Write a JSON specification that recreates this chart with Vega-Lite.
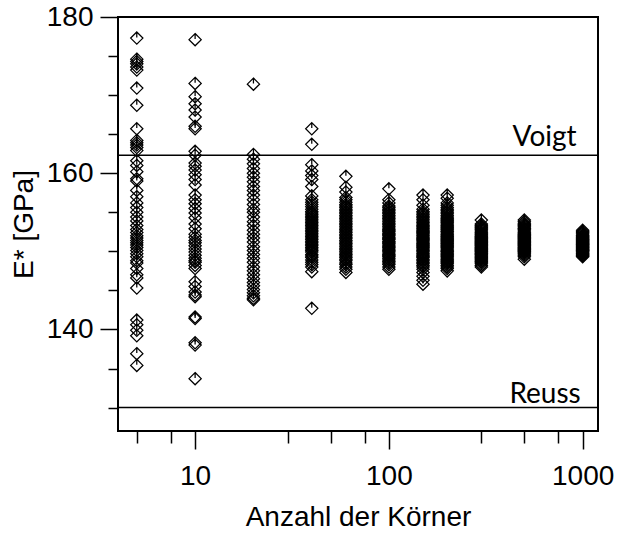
{
  "$schema": "https://vega.github.io/schema/vega-lite/v6.json",
  "width": 480,
  "height": 414,
  "autosize": {"type": "none"},
  "padding": {"left": 118, "top": 17, "right": 19, "bottom": 103},
  "background": "white",
  "config": {
    "view": {"stroke": "black", "strokeWidth": 2},
    "font": "Liberation Sans"
  },
  "datasets": {
    "samples": [
      {"n": 5, "E": 177.3}, {"n": 5, "E": 174.6}, {"n": 5, "E": 174.3}, {"n": 5, "E": 174.0}, {"n": 5, "E": 173.6},
      {"n": 5, "E": 173.2}, {"n": 5, "E": 170.9}, {"n": 5, "E": 168.7}, {"n": 5, "E": 165.7}, {"n": 5, "E": 164.2},
      {"n": 5, "E": 163.9}, {"n": 5, "E": 163.6}, {"n": 5, "E": 163.3}, {"n": 5, "E": 162.9}, {"n": 5, "E": 161.6},
      {"n": 5, "E": 161.0}, {"n": 5, "E": 160.2}, {"n": 5, "E": 159.3}, {"n": 5, "E": 159.0}, {"n": 5, "E": 157.8},
      {"n": 5, "E": 157.0}, {"n": 5, "E": 156.2}, {"n": 5, "E": 155.6}, {"n": 5, "E": 155.0}, {"n": 5, "E": 154.4},
      {"n": 5, "E": 153.9}, {"n": 5, "E": 153.3}, {"n": 5, "E": 152.8}, {"n": 5, "E": 152.4}, {"n": 5, "E": 152.0},
      {"n": 5, "E": 151.7}, {"n": 5, "E": 151.4}, {"n": 5, "E": 151.1}, {"n": 5, "E": 150.8}, {"n": 5, "E": 150.5},
      {"n": 5, "E": 150.1}, {"n": 5, "E": 149.7}, {"n": 5, "E": 149.3}, {"n": 5, "E": 148.8}, {"n": 5, "E": 148.5},
      {"n": 5, "E": 147.8}, {"n": 5, "E": 147.0}, {"n": 5, "E": 146.6}, {"n": 5, "E": 145.3}, {"n": 5, "E": 141.2},
      {"n": 5, "E": 140.6}, {"n": 5, "E": 139.9}, {"n": 5, "E": 139.2}, {"n": 5, "E": 136.9}, {"n": 5, "E": 135.4},

      {"n": 10, "E": 177.1}, {"n": 10, "E": 171.5}, {"n": 10, "E": 169.8}, {"n": 10, "E": 168.9}, {"n": 10, "E": 168.1},
      {"n": 10, "E": 167.2}, {"n": 10, "E": 166.0}, {"n": 10, "E": 165.7}, {"n": 10, "E": 162.8}, {"n": 10, "E": 162.3},
      {"n": 10, "E": 161.3}, {"n": 10, "E": 160.9}, {"n": 10, "E": 160.4}, {"n": 10, "E": 159.8}, {"n": 10, "E": 159.2},
      {"n": 10, "E": 158.5}, {"n": 10, "E": 157.2}, {"n": 10, "E": 156.6}, {"n": 10, "E": 156.1}, {"n": 10, "E": 155.5},
      {"n": 10, "E": 154.9}, {"n": 10, "E": 154.3}, {"n": 10, "E": 153.5}, {"n": 10, "E": 152.9}, {"n": 10, "E": 152.2},
      {"n": 10, "E": 151.8}, {"n": 10, "E": 151.4}, {"n": 10, "E": 151.1}, {"n": 10, "E": 150.7}, {"n": 10, "E": 150.3},
      {"n": 10, "E": 149.9}, {"n": 10, "E": 149.5}, {"n": 10, "E": 149.1}, {"n": 10, "E": 148.8}, {"n": 10, "E": 148.6},
      {"n": 10, "E": 148.2}, {"n": 10, "E": 147.8}, {"n": 10, "E": 146.1}, {"n": 10, "E": 145.5}, {"n": 10, "E": 144.8},
      {"n": 10, "E": 144.4}, {"n": 10, "E": 144.2}, {"n": 10, "E": 141.6}, {"n": 10, "E": 141.4}, {"n": 10, "E": 138.3},
      {"n": 10, "E": 138.0}, {"n": 10, "E": 133.7},

      {"n": 20, "E": 171.4}, {"n": 20, "E": 162.4}, {"n": 20, "E": 161.8}, {"n": 20, "E": 161.2}, {"n": 20, "E": 160.6},
      {"n": 20, "E": 160.0}, {"n": 20, "E": 159.5}, {"n": 20, "E": 158.9}, {"n": 20, "E": 158.3}, {"n": 20, "E": 157.8},
      {"n": 20, "E": 157.2}, {"n": 20, "E": 156.6}, {"n": 20, "E": 156.0}, {"n": 20, "E": 155.4}, {"n": 20, "E": 155.0},
      {"n": 20, "E": 154.4}, {"n": 20, "E": 153.8}, {"n": 20, "E": 153.3}, {"n": 20, "E": 152.7}, {"n": 20, "E": 152.2},
      {"n": 20, "E": 151.7}, {"n": 20, "E": 151.2}, {"n": 20, "E": 150.6}, {"n": 20, "E": 150.1}, {"n": 20, "E": 149.6},
      {"n": 20, "E": 149.1}, {"n": 20, "E": 148.6}, {"n": 20, "E": 148.0}, {"n": 20, "E": 147.5}, {"n": 20, "E": 147.0},
      {"n": 20, "E": 146.5}, {"n": 20, "E": 146.0}, {"n": 20, "E": 145.6}, {"n": 20, "E": 145.1}, {"n": 20, "E": 144.7},
      {"n": 20, "E": 144.3}, {"n": 20, "E": 144.0}, {"n": 20, "E": 143.8},

      {"n": 40, "E": 165.7}, {"n": 40, "E": 163.7}, {"n": 40, "E": 161.1}, {"n": 40, "E": 160.3}, {"n": 40, "E": 159.7},
      {"n": 40, "E": 159.2}, {"n": 40, "E": 158.3}, {"n": 40, "E": 157.1}, {"n": 40, "E": 156.6}, {"n": 40, "E": 156.3},
      {"n": 40, "E": 156.0}, {"n": 40, "E": 155.7}, {"n": 40, "E": 155.4}, {"n": 40, "E": 155.1}, {"n": 40, "E": 154.9},
      {"n": 40, "E": 154.7}, {"n": 40, "E": 154.5}, {"n": 40, "E": 154.3}, {"n": 40, "E": 154.1}, {"n": 40, "E": 153.9},
      {"n": 40, "E": 153.7}, {"n": 40, "E": 153.5}, {"n": 40, "E": 153.3}, {"n": 40, "E": 153.1}, {"n": 40, "E": 152.9},
      {"n": 40, "E": 152.7}, {"n": 40, "E": 152.5}, {"n": 40, "E": 152.3}, {"n": 40, "E": 152.1}, {"n": 40, "E": 151.9},
      {"n": 40, "E": 151.7}, {"n": 40, "E": 151.5}, {"n": 40, "E": 151.3}, {"n": 40, "E": 151.1}, {"n": 40, "E": 150.9},
      {"n": 40, "E": 150.7}, {"n": 40, "E": 150.5}, {"n": 40, "E": 150.3}, {"n": 40, "E": 150.1}, {"n": 40, "E": 149.9},
      {"n": 40, "E": 149.6}, {"n": 40, "E": 149.4}, {"n": 40, "E": 149.2}, {"n": 40, "E": 148.9}, {"n": 40, "E": 148.6},
      {"n": 40, "E": 148.3}, {"n": 40, "E": 148.0}, {"n": 40, "E": 147.4}, {"n": 40, "E": 142.7},

      {"n": 60, "E": 159.6}, {"n": 60, "E": 158.2}, {"n": 60, "E": 157.6}, {"n": 60, "E": 156.9}, {"n": 60, "E": 156.6},
      {"n": 60, "E": 156.3}, {"n": 60, "E": 156.0}, {"n": 60, "E": 155.8}, {"n": 60, "E": 155.6}, {"n": 60, "E": 155.4},
      {"n": 60, "E": 155.2}, {"n": 60, "E": 155.0}, {"n": 60, "E": 154.8}, {"n": 60, "E": 154.6}, {"n": 60, "E": 154.4},
      {"n": 60, "E": 154.2}, {"n": 60, "E": 154.0}, {"n": 60, "E": 153.8}, {"n": 60, "E": 153.6}, {"n": 60, "E": 153.4},
      {"n": 60, "E": 153.2}, {"n": 60, "E": 153.0}, {"n": 60, "E": 152.8}, {"n": 60, "E": 152.6}, {"n": 60, "E": 152.4},
      {"n": 60, "E": 152.2}, {"n": 60, "E": 152.0}, {"n": 60, "E": 151.8}, {"n": 60, "E": 151.6}, {"n": 60, "E": 151.4},
      {"n": 60, "E": 151.2}, {"n": 60, "E": 151.0}, {"n": 60, "E": 150.8}, {"n": 60, "E": 150.6}, {"n": 60, "E": 150.4},
      {"n": 60, "E": 150.2}, {"n": 60, "E": 150.0}, {"n": 60, "E": 149.8}, {"n": 60, "E": 149.6}, {"n": 60, "E": 149.4},
      {"n": 60, "E": 149.2}, {"n": 60, "E": 149.0}, {"n": 60, "E": 148.8}, {"n": 60, "E": 148.5}, {"n": 60, "E": 148.3},
      {"n": 60, "E": 148.0}, {"n": 60, "E": 147.7}, {"n": 60, "E": 147.3},

      {"n": 100, "E": 158.0}, {"n": 100, "E": 156.6}, {"n": 100, "E": 156.2}, {"n": 100, "E": 155.8}, {"n": 100, "E": 155.6},
      {"n": 100, "E": 155.4}, {"n": 100, "E": 155.2}, {"n": 100, "E": 155.0}, {"n": 100, "E": 154.8}, {"n": 100, "E": 154.6},
      {"n": 100, "E": 154.4}, {"n": 100, "E": 154.2}, {"n": 100, "E": 154.0}, {"n": 100, "E": 153.8}, {"n": 100, "E": 153.6},
      {"n": 100, "E": 153.4}, {"n": 100, "E": 153.2}, {"n": 100, "E": 153.0}, {"n": 100, "E": 152.8}, {"n": 100, "E": 152.65},
      {"n": 100, "E": 152.5}, {"n": 100, "E": 152.3}, {"n": 100, "E": 152.15}, {"n": 100, "E": 152.0}, {"n": 100, "E": 151.8},
      {"n": 100, "E": 151.65}, {"n": 100, "E": 151.5}, {"n": 100, "E": 151.3}, {"n": 100, "E": 151.15}, {"n": 100, "E": 151.0},
      {"n": 100, "E": 150.8}, {"n": 100, "E": 150.65}, {"n": 100, "E": 150.5}, {"n": 100, "E": 150.3}, {"n": 100, "E": 150.15},
      {"n": 100, "E": 150.0}, {"n": 100, "E": 149.8}, {"n": 100, "E": 149.6}, {"n": 100, "E": 149.45}, {"n": 100, "E": 149.3},
      {"n": 100, "E": 149.1}, {"n": 100, "E": 148.9}, {"n": 100, "E": 148.7}, {"n": 100, "E": 148.5}, {"n": 100, "E": 148.3},
      {"n": 100, "E": 148.0}, {"n": 100, "E": 147.7},

      {"n": 150, "E": 157.2}, {"n": 150, "E": 156.6}, {"n": 150, "E": 155.9}, {"n": 150, "E": 155.4}, {"n": 150, "E": 155.1},
      {"n": 150, "E": 154.9}, {"n": 150, "E": 154.7}, {"n": 150, "E": 154.5}, {"n": 150, "E": 154.3}, {"n": 150, "E": 154.1},
      {"n": 150, "E": 153.9}, {"n": 150, "E": 153.7}, {"n": 150, "E": 153.5}, {"n": 150, "E": 153.3}, {"n": 150, "E": 153.15},
      {"n": 150, "E": 153.0}, {"n": 150, "E": 152.85}, {"n": 150, "E": 152.7}, {"n": 150, "E": 152.55}, {"n": 150, "E": 152.4},
      {"n": 150, "E": 152.25}, {"n": 150, "E": 152.1}, {"n": 150, "E": 151.95}, {"n": 150, "E": 151.8}, {"n": 150, "E": 151.65},
      {"n": 150, "E": 151.5}, {"n": 150, "E": 151.35}, {"n": 150, "E": 151.2}, {"n": 150, "E": 151.05}, {"n": 150, "E": 150.9},
      {"n": 150, "E": 150.75}, {"n": 150, "E": 150.6}, {"n": 150, "E": 150.45}, {"n": 150, "E": 150.3}, {"n": 150, "E": 150.15},
      {"n": 150, "E": 150.0}, {"n": 150, "E": 149.8}, {"n": 150, "E": 149.65}, {"n": 150, "E": 149.5}, {"n": 150, "E": 149.35},
      {"n": 150, "E": 149.2}, {"n": 150, "E": 149.0}, {"n": 150, "E": 148.8}, {"n": 150, "E": 148.6}, {"n": 150, "E": 148.4},
      {"n": 150, "E": 148.2}, {"n": 150, "E": 148.0}, {"n": 150, "E": 147.7}, {"n": 150, "E": 147.3}, {"n": 150, "E": 146.8},
      {"n": 150, "E": 146.3}, {"n": 150, "E": 145.8},

      {"n": 200, "E": 157.2}, {"n": 200, "E": 156.8}, {"n": 200, "E": 156.2}, {"n": 200, "E": 155.9}, {"n": 200, "E": 155.6},
      {"n": 200, "E": 155.4}, {"n": 200, "E": 155.2}, {"n": 200, "E": 155.0}, {"n": 200, "E": 154.8}, {"n": 200, "E": 154.6},
      {"n": 200, "E": 154.4}, {"n": 200, "E": 154.25}, {"n": 200, "E": 154.1}, {"n": 200, "E": 153.95}, {"n": 200, "E": 153.8},
      {"n": 200, "E": 153.65}, {"n": 200, "E": 153.5}, {"n": 200, "E": 153.35}, {"n": 200, "E": 153.2}, {"n": 200, "E": 153.05},
      {"n": 200, "E": 152.9}, {"n": 200, "E": 152.75}, {"n": 200, "E": 152.6}, {"n": 200, "E": 152.5}, {"n": 200, "E": 152.35},
      {"n": 200, "E": 152.2}, {"n": 200, "E": 152.05}, {"n": 200, "E": 151.9}, {"n": 200, "E": 151.8}, {"n": 200, "E": 151.65},
      {"n": 200, "E": 151.5}, {"n": 200, "E": 151.4}, {"n": 200, "E": 151.25}, {"n": 200, "E": 151.1}, {"n": 200, "E": 151.0},
      {"n": 200, "E": 150.85}, {"n": 200, "E": 150.7}, {"n": 200, "E": 150.6}, {"n": 200, "E": 150.45}, {"n": 200, "E": 150.3},
      {"n": 200, "E": 150.15}, {"n": 200, "E": 150.0}, {"n": 200, "E": 149.9}, {"n": 200, "E": 149.75}, {"n": 200, "E": 149.6},
      {"n": 200, "E": 149.45}, {"n": 200, "E": 149.3}, {"n": 200, "E": 149.15}, {"n": 200, "E": 149.0}, {"n": 200, "E": 148.85},
      {"n": 200, "E": 148.7}, {"n": 200, "E": 148.55}, {"n": 200, "E": 148.4}, {"n": 200, "E": 148.2}, {"n": 200, "E": 148.0},
      {"n": 200, "E": 147.8}, {"n": 200, "E": 147.5},

      {"n": 300, "E": 154.0}, {"n": 300, "E": 153.5}, {"n": 300, "E": 153.35}, {"n": 300, "E": 153.2}, {"n": 300, "E": 153.05},
      {"n": 300, "E": 152.9}, {"n": 300, "E": 152.75}, {"n": 300, "E": 152.6}, {"n": 300, "E": 152.45}, {"n": 300, "E": 152.3},
      {"n": 300, "E": 152.15}, {"n": 300, "E": 152.0}, {"n": 300, "E": 151.9}, {"n": 300, "E": 151.8}, {"n": 300, "E": 151.7},
      {"n": 300, "E": 151.6}, {"n": 300, "E": 151.5}, {"n": 300, "E": 151.4}, {"n": 300, "E": 151.3}, {"n": 300, "E": 151.2},
      {"n": 300, "E": 151.1}, {"n": 300, "E": 151.0}, {"n": 300, "E": 150.9}, {"n": 300, "E": 150.8}, {"n": 300, "E": 150.7},
      {"n": 300, "E": 150.6}, {"n": 300, "E": 150.5}, {"n": 300, "E": 150.4}, {"n": 300, "E": 150.3}, {"n": 300, "E": 150.2},
      {"n": 300, "E": 150.1}, {"n": 300, "E": 150.0}, {"n": 300, "E": 149.9}, {"n": 300, "E": 149.8}, {"n": 300, "E": 149.7},
      {"n": 300, "E": 149.6}, {"n": 300, "E": 149.5}, {"n": 300, "E": 149.35}, {"n": 300, "E": 149.2}, {"n": 300, "E": 149.1},
      {"n": 300, "E": 149.0}, {"n": 300, "E": 148.85}, {"n": 300, "E": 148.7}, {"n": 300, "E": 148.6}, {"n": 300, "E": 148.4},
      {"n": 300, "E": 148.2}, {"n": 300, "E": 148.0},

      {"n": 500, "E": 154.0}, {"n": 500, "E": 153.8}, {"n": 500, "E": 153.6}, {"n": 500, "E": 153.45}, {"n": 500, "E": 153.3},
      {"n": 500, "E": 153.15}, {"n": 500, "E": 153.0}, {"n": 500, "E": 152.9}, {"n": 500, "E": 152.75}, {"n": 500, "E": 152.6},
      {"n": 500, "E": 152.45}, {"n": 500, "E": 152.3}, {"n": 500, "E": 152.2}, {"n": 500, "E": 152.1}, {"n": 500, "E": 152.0},
      {"n": 500, "E": 151.9}, {"n": 500, "E": 151.8}, {"n": 500, "E": 151.7}, {"n": 500, "E": 151.6}, {"n": 500, "E": 151.5},
      {"n": 500, "E": 151.4}, {"n": 500, "E": 151.3}, {"n": 500, "E": 151.2}, {"n": 500, "E": 151.1}, {"n": 500, "E": 151.0},
      {"n": 500, "E": 150.9}, {"n": 500, "E": 150.8}, {"n": 500, "E": 150.7}, {"n": 500, "E": 150.6}, {"n": 500, "E": 150.5},
      {"n": 500, "E": 150.4}, {"n": 500, "E": 150.3}, {"n": 500, "E": 150.2}, {"n": 500, "E": 150.1}, {"n": 500, "E": 150.0},
      {"n": 500, "E": 149.9}, {"n": 500, "E": 149.8}, {"n": 500, "E": 149.65}, {"n": 500, "E": 149.5}, {"n": 500, "E": 149.3},
      {"n": 500, "E": 149.0},

      {"n": 1000, "E": 152.7}, {"n": 1000, "E": 152.55}, {"n": 1000, "E": 152.4}, {"n": 1000, "E": 152.25}, {"n": 1000, "E": 152.1},
      {"n": 1000, "E": 152.0}, {"n": 1000, "E": 151.9}, {"n": 1000, "E": 151.8}, {"n": 1000, "E": 151.7}, {"n": 1000, "E": 151.6},
      {"n": 1000, "E": 151.5}, {"n": 1000, "E": 151.45}, {"n": 1000, "E": 151.35}, {"n": 1000, "E": 151.3}, {"n": 1000, "E": 151.2},
      {"n": 1000, "E": 151.1}, {"n": 1000, "E": 151.05}, {"n": 1000, "E": 150.95}, {"n": 1000, "E": 150.9}, {"n": 1000, "E": 150.8},
      {"n": 1000, "E": 150.7}, {"n": 1000, "E": 150.65}, {"n": 1000, "E": 150.55}, {"n": 1000, "E": 150.5}, {"n": 1000, "E": 150.4},
      {"n": 1000, "E": 150.3}, {"n": 1000, "E": 150.25}, {"n": 1000, "E": 150.15}, {"n": 1000, "E": 150.1}, {"n": 1000, "E": 150.0},
      {"n": 1000, "E": 149.9}, {"n": 1000, "E": 149.8}, {"n": 1000, "E": 149.7}, {"n": 1000, "E": 149.6}, {"n": 1000, "E": 149.5},
      {"n": 1000, "E": 149.4}, {"n": 1000, "E": 149.3}
    ],
    "bounds": [
      {"bound": "Voigt", "E": 162.3},
      {"bound": "Reuss", "E": 130.0}
    ]
  },
  "layer": [
    {
      "data": {"name": "samples"},
      "mark": {
        "type": "point",
        "shape": "M0,-1L1,0L0,1L-1,0ZM0,-1L0,-0.1",
        "size": 150,
        "filled": false,
        "stroke": "black",
        "strokeWidth": 1.25,
        "opacity": 1
      },
      "encoding": {
        "x": {
          "field": "n",
          "type": "quantitative",
          "scale": {"type": "log", "domain": [4, 1200], "nice": false},
          "axis": {
            "title": "Anzahl der Körner",
            "values": [5, 7.5, 10, 30, 50, 75, 100, 300, 500, 750, 1000],
            "labelExpr": "indexof([10, 100, 1000], datum.value) >= 0 ? '' + datum.value : ''",
            "domain": false,
            "grid": false,
            "tickColor": "black",
            "tickWidth": 1.5,
            "tickSize": {"condition": {"test": "indexof([10, 100, 1000], datum.value) >= 0", "value": 18}, "value": 12},
            "labelFont": "Liberation Sans",
            "labelFontSize": 28,
            "labelColor": "black",
            "labelPadding": 13,
            "labelFlush": false,
            "labelOverlap": false,
            "titleFont": "Liberation Sans",
            "titleFontSize": 28,
            "titleFontWeight": "normal",
            "titleColor": "black",
            "titlePadding": 13
          }
        },
        "y": {
          "field": "E",
          "type": "quantitative",
          "scale": {"domain": [127, 180], "nice": false, "zero": false},
          "axis": {
            "title": "E* [GPa]",
            "values": [130, 135, 140, 145, 150, 155, 160, 165, 170, 175, 180],
            "labelExpr": "datum.value % 20 == 0 ? '' + datum.value : ''",
            "domain": false,
            "grid": false,
            "tickColor": "black",
            "tickWidth": 1.5,
            "tickSize": {"condition": {"test": "datum.value % 20 == 0", "value": 18}, "value": 10},
            "labelFont": "Liberation Sans",
            "labelFontSize": 28,
            "labelColor": "black",
            "labelPadding": 7,
            "labelFlush": false,
            "labelOverlap": false,
            "titleFont": "Liberation Sans",
            "titleFontSize": 28,
            "titleFontWeight": "normal",
            "titleColor": "black",
            "titlePadding": 8
          }
        }
      }
    },
    {
      "data": {"name": "bounds"},
      "mark": {"type": "rule", "color": "black", "strokeWidth": 1.5},
      "encoding": {
        "y": {"field": "E", "type": "quantitative"}
      }
    },
    {
      "data": {"name": "bounds"},
      "transform": [{"filter": "datum.bound == 'Voigt'"}],
      "mark": {"type": "text", "font": "Lato", "fontSize": 28, "color": "black", "align": "right", "baseline": "alphabetic", "dx": -6, "dy": -9.5},
      "encoding": {
        "x": {"datum": 1000, "type": "quantitative"},
        "y": {"field": "E", "type": "quantitative"},
        "text": {"field": "bound"}
      }
    },
    {
      "data": {"name": "bounds"},
      "transform": [{"filter": "datum.bound == 'Reuss'"}],
      "mark": {"type": "text", "font": "Lato", "fontSize": 28, "color": "black", "align": "right", "baseline": "alphabetic", "dx": -2, "dy": -4.5},
      "encoding": {
        "x": {"datum": 1000, "type": "quantitative"},
        "y": {"field": "E", "type": "quantitative"},
        "text": {"field": "bound"}
      }
    }
  ]
}
